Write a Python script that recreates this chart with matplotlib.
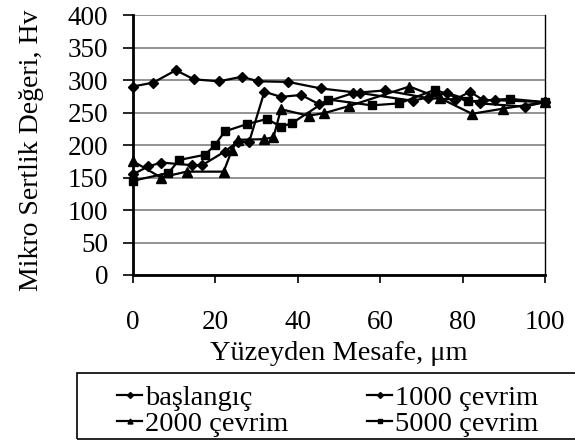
import matplotlib
matplotlib.use("Agg")
import matplotlib.pyplot as plt
from matplotlib.patches import Rectangle

plt.rcParams['font.family'] = ['Liberation Serif', 'DejaVu Serif']

# --- data ---
x_bas = [0, 4.9, 10.4, 14.8, 20.9, 26.4, 30.4, 37.7, 45.6, 55.1, 67.9, 76.3, 84.2, 95.1, 100]
y_bas = [290, 296, 315, 301, 298, 305, 298, 297, 287, 280, 268, 280, 264, 259, 266]

x_1000 = [0, 3.7, 6.9, 14.2, 16.8, 22.3, 25.4, 28.2, 31.9, 35.9, 40.8, 45.1, 53.5, 61.2, 71.7, 78.2, 81.8, 85, 87.9, 100]
y_1000 = [155, 167, 173, 169, 169, 190, 205, 205, 282, 274, 277, 263, 280, 284, 272, 270, 282, 269, 269, 266]

x_2000 = [0, 6.8, 13, 22, 24, 25.4, 31.9, 34.1, 35.9, 42.6, 46.4, 52.5, 67.1, 74.5, 82.3, 89.9, 100]
y_2000 = [175, 150, 159, 159, 192, 208, 209, 212, 255, 245, 249, 260, 290, 272, 248, 256, 266]

x_5000 = [0, 8.6, 11.2, 17.5, 19.9, 22.3, 27.6, 32.5, 36, 38.7, 47.4, 57.9, 64.6, 73.3, 81.3, 91.5, 100]
y_5000 = [145, 157, 177, 185, 200, 221, 232, 240, 228, 234, 270, 261, 264, 285, 267, 271, 266]

labels = ['başlangıç', '1000 çevrim', '2000 çevrim', '5000 çevrim']
x_ticks = [0, 20, 40, 60, 80, 100]
y_ticks = [0, 50, 100, 150, 200, 250, 300, 350, 400]

W, H = 575, 440
fig = plt.figure(figsize=(W / 100, H / 100), dpi=100)
L, R, T, B = 133, 545, 15, 275
ax = fig.add_axes([L / W, 1 - B / H, (R - L) / W, (B - T) / H])

lw = 1.6
h1, = ax.plot(x_bas, y_bas, color='black', lw=lw, marker='D', ms=5.5, clip_on=False, zorder=5)
h2, = ax.plot(x_1000, y_1000, color='black', lw=lw, marker='D', ms=5.5, clip_on=False, zorder=5)
h3, = ax.plot(x_2000, y_2000, color='black', lw=lw, marker='^', ms=6.5, clip_on=False, zorder=5)
h4, = ax.plot(x_5000, y_5000, color='black', lw=lw, marker='s', ms=6, clip_on=False, zorder=5)

ax.set_xlim(0, 100)
ax.set_ylim(0, 400)
ax.set_xticks(x_ticks)
ax.set_yticks(y_ticks)
ax.yaxis.grid(True, color='#808080', lw=1.2)
ax.set_axisbelow(True)

for s in ['left', 'bottom']:
    ax.spines[s].set_linewidth(2)
    ax.spines[s].set_color('black')
ax.spines['top'].set_visible(False)
ax.spines['right'].set_linewidth(1.0)
ax.spines['right'].set_color('black')

ax.tick_params(axis='x', direction='out', length=6, width=1.2, labelsize=19.5, pad=19)
ax.tick_params(axis='y', direction='out', length=7, width=1.2, labelsize=19.5, pad=11)

ax.set_xlabel('Yüzeyden Mesafe, μm', fontsize=20.5)
ax.xaxis.set_label_coords(0.5, -0.252)
ax.set_ylabel('Mikro Sertlik Değeri, Hv', fontsize=20)
ax.yaxis.set_label_coords(-0.215, 0.48)

# legend box
fig.patches.append(Rectangle((77 / W, 1 - 439 / H), 1.0, (439 - 373) / H,
                             transform=fig.transFigure, fill=False,
                             edgecolor='black', lw=1.2, clip_on=False))
order = [0, 2, 1, 3]
handles = [h1, h2, h3, h4]
leg = fig.legend([handles[i] for i in order], [labels[i] for i in order],
                 ncol=2, frameon=False,
                 loc='upper left', bbox_to_anchor=(117 / W, 1 - 385 / H),
                 fontsize=20.5, handlelength=0.88, handletextpad=0.12,
                 columnspacing=2.75, labelspacing=0.0, markerscale=0.55,
                 borderpad=0.0, borderaxespad=0.0)

fig.savefig('out.png', dpi=100)
